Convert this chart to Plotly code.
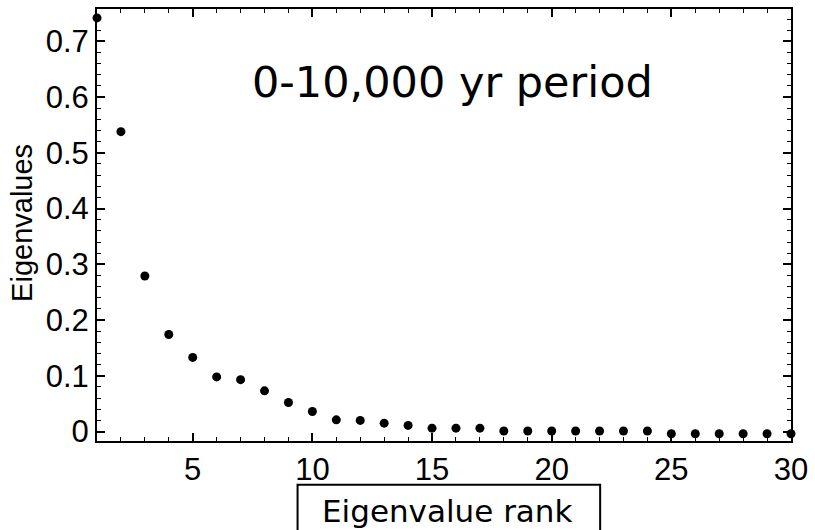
import plotly.graph_objects as go

# Eigenvalue spectrum, ranks 1-30
rank = list(range(1, 31))
eigenvalues = [
    0.742, 0.538, 0.279, 0.174, 0.133, 0.098, 0.093, 0.073, 0.052, 0.036,
    0.021, 0.020, 0.015, 0.011, 0.006, 0.006, 0.006, 0.001, 0.001, 0.001,
    0.001, 0.001, 0.001, 0.001, -0.004, -0.004, -0.004, -0.004, -0.004, -0.004,
]

y_tickvals = [0, 0.1, 0.2, 0.3, 0.4, 0.5, 0.6, 0.7]
y_ticktext = ["0", "0.1", "0.2", "0.3", "0.4", "0.5", "0.6", "0.7"]
x_tickvals = [5, 10, 15, 20, 25, 30]

tick_font = dict(family="Liberation Sans, Arial, sans-serif", size=31, color="black")

fig = go.Figure()
fig.add_trace(go.Scatter(
    x=rank, y=eigenvalues, mode="markers",
    marker=dict(size=9, color="black"),
    cliponaxis=False, showlegend=False,
))

fig.update_layout(
    width=815, height=530,
    margin=dict(l=97, r=19, t=7, b=89),
    paper_bgcolor="white", plot_bgcolor="white",
    xaxis=dict(
        range=[1, 30], tickvals=x_tickvals, ticks="inside", ticklen=8, tickwidth=1.5,
        tickcolor="black", showline=True, linecolor="black", linewidth=2,
        mirror="allticks", showgrid=False, zeroline=False, tickfont=tick_font,
        ticklabelstandoff=0,
        minor=dict(dtick=1, ticks="inside", ticklen=4, tickcolor="black", tickwidth=1.2, showgrid=False),
    ),
    yaxis=dict(
        range=[-0.017, 0.758], tickvals=y_tickvals, ticktext=y_ticktext, ticks="inside",
        ticklen=8, tickwidth=1.5, tickcolor="black", showline=True, linecolor="black",
        linewidth=2, mirror="allticks", showgrid=False, zeroline=False, tickfont=tick_font,
        ticklabelstandoff=0,
        minor=dict(dtick=0.02, tick0=0, ticks="inside", ticklen=4, tickcolor="black", tickwidth=1.2, showgrid=False),
    ),
    annotations=[
        dict(text="0-10,000 yr period", xref="paper", yref="paper", x=0.512, y=0.832,
             showarrow=False, font=dict(family="DejaVu Sans", size=43, color="black"),
             xanchor="center", yanchor="middle"),
        dict(text="Eigenvalues", xref="paper", yref="paper", x=-0.108, y=0.505,
             textangle=-90, showarrow=False, xanchor="center", yanchor="middle",
             font=dict(family="Liberation Sans, Arial, sans-serif", size=29, color="black")),
        dict(text="Eigenvalue rank", xref="paper", yref="paper", x=0.505, y=-0.162,
             showarrow=False, xanchor="center", yanchor="middle",
             font=dict(family="DejaVu Sans", size=31, color="black")),
    ],
    shapes=[
        dict(type="rect", xref="paper", yref="paper", x0=0.289, x1=0.725, y0=-0.101, y1=-0.25,
             line=dict(color="black", width=2), fillcolor="rgba(0,0,0,0)", layer="above"),
    ],
)

fig.write_html("out.html")
